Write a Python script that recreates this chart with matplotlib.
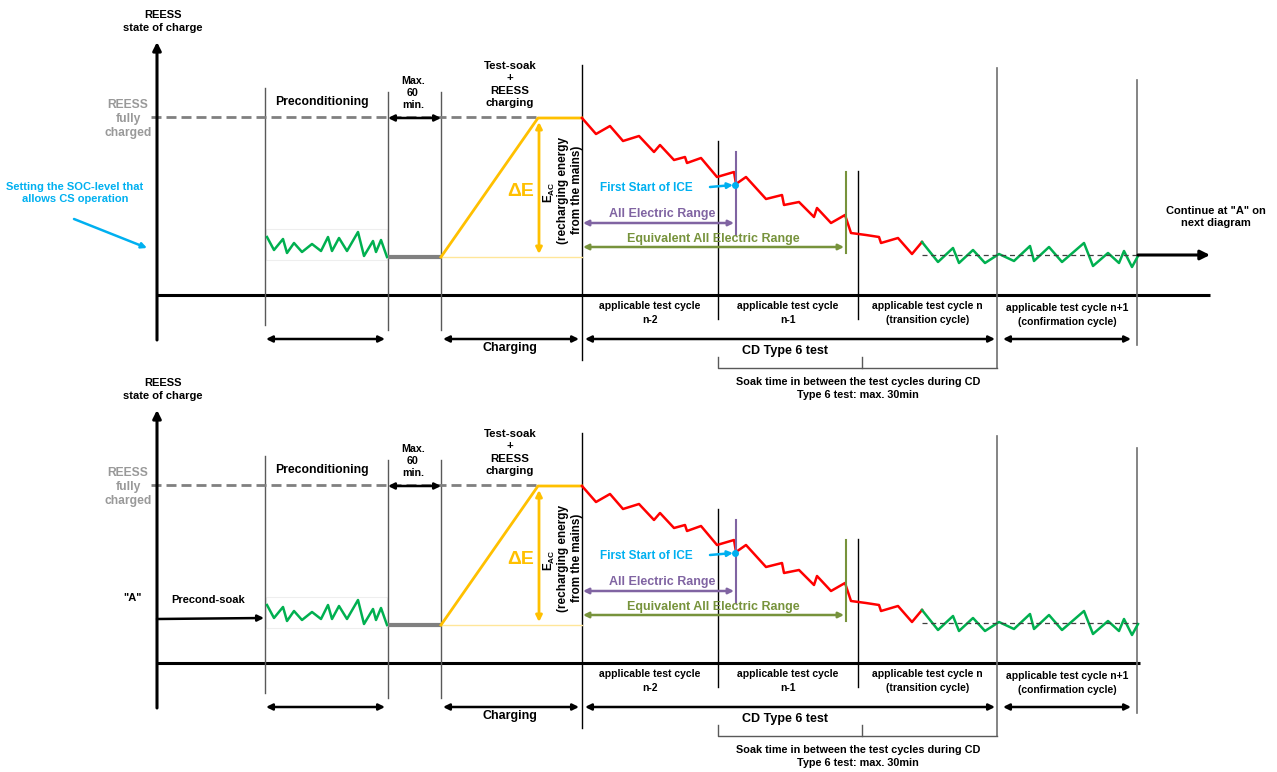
import matplotlib.pyplot as plt
from matplotlib.patches import Rectangle

plt.rcParams['font.family'] = ['Liberation Sans', 'DejaVu Sans']
plt.rcParams['mathtext.fontset'] = 'custom'
plt.rcParams['mathtext.rm'] = 'Liberation Sans:bold'
plt.rcParams['mathtext.it'] = 'Liberation Sans:bold'
plt.rcParams['mathtext.default'] = 'rm'

# diagram data (time axis and SOC level, in units of the upper panel)
soc_full = 117
soc_cs = 257
axis_y = 295
y_axis_x = 157
phase_x = [265, 388, 441, 582, 718, 858, 997, 1137]
panel_offsets = [0, 368]

precon_x = [267, 274, 283, 287, 294, 302, 312, 321, 328, 332, 339, 347, 358, 364, 373, 376, 381, 387]
precon_soc = [237, 250, 239, 253, 243, 252, 244, 251, 237, 251, 238, 251, 232, 256, 241, 252, 240, 257]

cd_x = [582, 596, 610, 623, 639, 654, 660, 674, 685, 687, 701, 717, 734, 736, 746, 766, 782, 784,
        799, 814, 817, 831, 845, 851, 866, 879, 881, 898, 912, 922]
cd_soc = [118, 134, 126, 141, 136, 152, 145, 160, 157, 163, 158, 177, 172, 184, 177, 199, 195, 205,
          202, 217, 208, 223, 215, 233, 235, 237, 243, 238, 254, 242]

cs_x = [922, 938, 953, 959, 973, 985, 999, 1014, 1030, 1034, 1049, 1062, 1084, 1093, 1108, 1119, 1124, 1132, 1138]
cs_soc = [242, 262, 248, 263, 250, 263, 254, 261, 246, 261, 247, 262, 243, 266, 253, 263, 251, 267, 256]
cs_mean = 255

ice_x, ice_soc = 736, 184
eaer_x = 846

cycle_labels = ['applicable test cycle\nn-2', 'applicable test cycle\nn-1',
                'applicable test cycle n\n(transition cycle)', 'applicable test cycle n+1\n(confirmation cycle)']
soak_lines = ['Test-soak', '+', 'REESS', 'charging']

RED = '#FF0000'
GREEN = '#00B050'
YELLOW = '#FFC000'
BLUE = '#00B0F0'
PURPLE = '#8064A2'
OLIVE = '#77933C'
GRAY = '#808080'
LGRAY = '#999999'

fig = plt.figure(figsize=(12.77, 7.72), dpi=100)
ax = fig.add_axes([0, 0, 1, 1])
ax.set_xlim(0, 1277)
ax.set_ylim(772, 0)
ax.axis('off')


def arrow(x0, y0, x1, y1, style='<|-|>', color='black', lw=1.8, ms=10):
    ax.annotate('', xy=(x1, y1), xytext=(x0, y0),
                arrowprops=dict(arrowstyle=style, color=color, lw=lw, mutation_scale=ms,
                                shrinkA=0, shrinkB=0))


def txt(x, y, s, size=8, color='black', weight='bold', **kw):
    ax.text(x, y, s, fontsize=size, color=color, fontweight=weight,
            ha=kw.pop('ha', 'center'), va=kw.pop('va', 'center'),
            linespacing=kw.pop('linespacing', 1.15), **kw)


def draw_panel(dy, first):
    # axes
    arrow(y_axis_x, 340 + dy, y_axis_x, 42 + dy, style='-|>', lw=2.2, ms=12)
    x_end = 1210 if first else 1140
    ax.plot([y_axis_x, x_end], [axis_y + dy, axis_y + dy], color='black', lw=2.2, solid_capstyle='butt')
    txt(163, 15 + dy, 'REESS', size=8)
    txt(163, 28 + dy, 'state of charge', size=8)

    # phase boundaries
    ax.plot([phase_x[0]] * 2, [88 + dy, 325 + dy], color='#595959', lw=1)
    ax.plot([phase_x[1]] * 2, [92 + dy, 330 + dy], color='#595959', lw=1)
    ax.plot([phase_x[2]] * 2, [92 + dy, 330 + dy], color='#595959', lw=1)
    ax.plot([phase_x[3]] * 2, [65 + dy, 360 + dy], color='black', lw=1)
    ax.plot([phase_x[4]] * 2, [141 + dy, 319 + dy], color='black', lw=1)
    ax.plot([phase_x[5]] * 2, [171 + dy, 319 + dy], color='black', lw=1)
    ax.plot([phase_x[6]] * 2, [68 + dy, 368 + dy], color='#6f6f6f', lw=1.2)
    ax.plot([phase_x[7]] * 2, [80 + dy, 345 + dy], color='#6f6f6f', lw=1.2)

    # fully charged level
    ax.plot([151, 538], [soc_full + dy] * 2, color=GRAY, lw=2, dashes=(3.6, 1.8))
    txt(128, 119 + dy, 'REESS\nfully\ncharged', size=8.7, color=LGRAY, linespacing=1.2)
    txt(322, 102 + dy, 'Preconditioning', size=8.8)
    txt(413, 93 + dy, 'Max.\n60\nmin.', size=7.7, linespacing=1.25)
    arrow(phase_x[1], soc_full + 1 + dy, phase_x[2], soc_full + 1 + dy, lw=1.8, ms=9)

    # preconditioning cycle
    ax.add_patch(Rectangle((266, 229 + dy), 121, 31, fill=False, edgecolor='#eeeeee', lw=0.8))
    ax.plot(precon_x, [s + dy for s in precon_soc], color=GREEN, lw=1.8)
    ax.plot([phase_x[1], phase_x[2]], [soc_cs + dy] * 2, color=GRAY, lw=3, solid_capstyle='butt')

    # charging
    ax.plot([phase_x[2], 582], [soc_cs + dy] * 2, color='#FFE699', lw=1)
    ax.plot([phase_x[2], 538, 582], [soc_cs + dy, soc_full + 1 + dy, soc_full + 1 + dy], color=YELLOW, lw=2)
    arrow(539, 122 + dy, 539, 254 + dy, color=YELLOW, lw=2, ms=9)
    txt(521, 192 + dy, 'ΔE', size=14, color=YELLOW)
    txt(549, 192 + dy, 'E$_{AC}$', size=8.5, rotation=90)
    txt(563, 190 + dy, '(recharging energy', size=8.5, rotation=90)
    txt(577, 190 + dy, 'from the mains)', size=8.5, rotation=90)
    for j, line in enumerate(soak_lines):
        txt(510, 66 + 12.4 * j + dy, line, size=8.2)

    # charge-depleting and charge-sustaining trace
    ax.plot(cd_x, [s + dy for s in cd_soc], color=RED, lw=1.8)
    ax.plot(cs_x, [s + dy for s in cs_soc], color=GREEN, lw=1.8)
    ax.plot([cs_x[0], cs_x[-1]], [cs_mean + dy] * 2, color='#404040', lw=0.9, dashes=(4, 3))

    # ICE start, ranges
    ax.plot([ice_x] * 2, [152 + dy, 235 + dy], color=PURPLE, lw=1.5)
    ax.plot([eaer_x] * 2, [172 + dy, 253 + dy], color=OLIVE, lw=1.5)
    arrow(710, 187 + dy, 733, 185 + dy, style='-|>', color=BLUE, lw=1.8, ms=8)
    ax.plot(ice_x - 1, ice_soc + dy + 1, 'o', color=BLUE, ms=4)
    txt(646, 188 + dy, 'First Start of ICE', size=8.5, color=BLUE)
    arrow(583, 223 + dy, 734, 223 + dy, color=PURPLE, lw=1.8, ms=8)
    txt(662, 214 + dy, 'All Electric Range', size=9, color=PURPLE)
    arrow(583, 247 + dy, 844, 247 + dy, color=OLIVE, lw=1.8, ms=8)
    txt(713, 239 + dy, 'Equivalent All Electric Range', size=9, color=OLIVE)

    # cycle labels
    centers = [(phase_x[3] + phase_x[4]) / 2, (phase_x[4] + phase_x[5]) / 2,
               (phase_x[5] + phase_x[6]) / 2, (phase_x[6] + phase_x[7]) / 2]
    for i, (cx, lab) in enumerate(zip(centers, cycle_labels)):
        txt(cx, 313 + dy + (2 if i == 3 else 0), lab, size=7.5, linespacing=1.5)

    # bottom arrows
    arrow(266, 339 + dy, 385, 339 + dy, lw=1.8, ms=9)
    arrow(443, 339 + dy, 579, 339 + dy, lw=1.8, ms=9)
    txt(510, 348 + dy, 'Charging', size=9)
    arrow(585, 339 + dy, 995, 339 + dy, lw=1.8, ms=9)
    txt(785, 351 + dy, 'CD Type 6 test', size=9)
    arrow(1003, 339 + dy, 1131, 339 + dy, lw=1.8, ms=9)

    # soak bracket
    ax.plot([718, 718, 997], [357 + dy, 368 + dy, 368 + dy], color='#595959', lw=1)
    ax.plot([862, 862], [357 + dy, 368 + dy], color='#595959', lw=1)
    txt(858, 388.5 + dy, 'Soak time in between the test cycles during CD\nType 6 test: max. 30min',
        size=7.8, linespacing=1.3)

    if first:
        txt(75, 193, 'Setting the SOC-level that\nallows CS operation', size=8, color=BLUE, linespacing=1.15)
        arrow(74, 219, 147, 248, style='-|>', color=BLUE, lw=1.8, ms=8)
        arrow(1138, cs_mean, 1210, cs_mean, style='-|>', lw=2.2, ms=14)
        txt(1216, 217, 'Continue at "A" on\nnext diagram', size=8, linespacing=1.3)
    else:
        txt(133, 598, '"A"', size=8)
        txt(208, 600, 'Precond-soak', size=8)
        arrow(y_axis_x, 619, 264, 618, style='-|>', lw=1.8, ms=9)


for k, dy in enumerate(panel_offsets):
    draw_panel(dy, k == 0)

fig.savefig('out.png', dpi=100)
